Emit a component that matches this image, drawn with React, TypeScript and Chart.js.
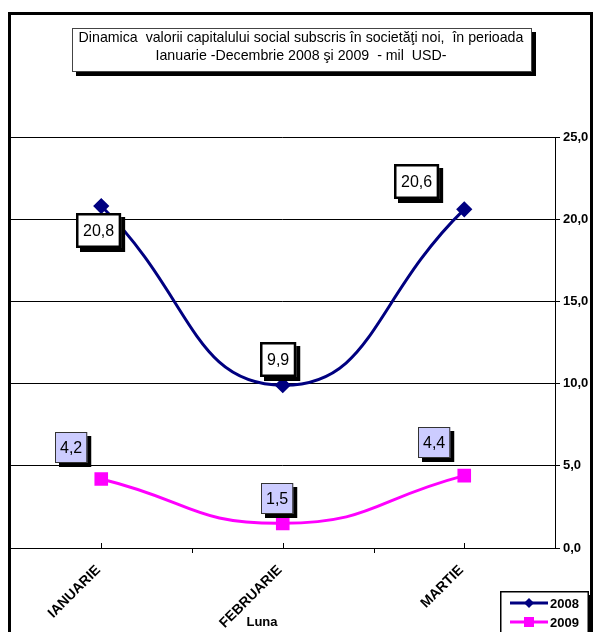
import React, { useEffect, useRef } from "react";
import { Chart, registerables } from "chart.js";

Chart.register(...registerables);

const months = ["IANUARIE", "FEBRUARIE", "MARTIE"];
const series2008 = [20.8, 9.9, 20.6];
const series2009 = [4.2, 1.5, 4.4];
const seriesNames = ["2008", "2009"];
const yTicks = [0, 5, 10, 15, 20, 25];
const titleLines = [
  "Dinamica  valorii capitalului social subscris în societăţi noi,  în perioada",
  "Ianuarie -Decembrie 2008 şi 2009  - mil  USD-",
];
const xAxisTitle = "Luna";

const fmt = (v: number) => v.toFixed(1).replace(".", ",");

export default function App() {
  const ref = useRef<HTMLCanvasElement>(null);

  useEffect(() => {
    const canvas = ref.current!;
    const FONT = "Arial, 'Liberation Sans', sans-serif";

    // label box offsets (style only)
    const labelOffsets = [
      [[-3, 24], [-5, -26], [-48, -28]],
      [[-30, -31], [-6, -25], [-30, -33]],
    ];
    const labelStyles = [
      { fill: "#ffffff", border: "#000000", borderW: 2.5, padX: 7, h: 35 },
      { fill: "#ccccff", border: "#333333", borderW: 1, padX: 5, h: 31 },
    ];

    const decor = {
      id: "decor",
      beforeDraw(chart: any) {
        const ctx = chart.ctx;
        ctx.save();
        ctx.fillStyle = "#fff";
        ctx.fillRect(0, 0, chart.width, chart.height);
        ctx.restore();
      },
      afterDraw(chart: any) {
        const ctx = chart.ctx;
        const xs = chart.scales.x;
        const area = chart.chartArea;
        ctx.save();
        // category ticks on x axis
        ctx.strokeStyle = "#000";
        ctx.lineWidth = 1;
        const n = months.length;
        const band = (area.right - area.left) / n;
        for (let i = 0; i < n; i++) {
          const cx = xs.getPixelForValue(i);
          ctx.beginPath();
          ctx.moveTo(Math.round(cx) + 0.5, area.bottom - 5);
          ctx.lineTo(Math.round(cx) + 0.5, area.bottom);
          ctx.stroke();
        }
        for (let i = 1; i < n; i++) {
          const bx = area.left + band * i;
          ctx.beginPath();
          ctx.moveTo(Math.round(bx) + 0.5, area.bottom);
          ctx.lineTo(Math.round(bx) + 0.5, area.bottom + 5);
          ctx.stroke();
        }

        // data label boxes
        ctx.font = "16px " + FONT;
        ctx.textAlign = "center";
        ctx.textBaseline = "middle";
        [series2008, series2009].forEach((vals, d) => {
          const meta = chart.getDatasetMeta(d);
          const st = labelStyles[d];
          vals.forEach((v, i) => {
            const el = meta.data[i];
            const text = fmt(v);
            const w = ctx.measureText(text).width + st.padX * 2;
            const h = st.h;
            const cx = el.x + labelOffsets[d][i][0];
            const cy = el.y + labelOffsets[d][i][1];
            const x0 = Math.round(cx - w / 2);
            const y0 = Math.round(cy - h / 2);
            ctx.fillStyle = "#000";
            ctx.fillRect(x0 + 4, y0 + 4, w, h);
            ctx.fillStyle = st.fill;
            ctx.fillRect(x0, y0, w, h);
            ctx.strokeStyle = st.border;
            ctx.lineWidth = st.borderW;
            ctx.strokeRect(x0 + st.borderW / 2, y0 + st.borderW / 2, w - st.borderW, h - st.borderW);
            ctx.fillStyle = "#000";
            ctx.fillText(text, x0 + w / 2, y0 + h / 2 + 1);
          });
        });

        // title box
        const tx0 = 72, ty0 = 28, tw = 460, th = 44;
        ctx.fillStyle = "#000";
        ctx.fillRect(tx0 + 4, ty0 + 4, tw, th);
        ctx.fillStyle = "#fff";
        ctx.fillRect(tx0, ty0, tw, th);
        ctx.strokeStyle = "#444";
        ctx.lineWidth = 1;
        ctx.strokeRect(tx0 + 0.5, ty0 + 0.5, tw - 1, th - 1);
        ctx.fillStyle = "#000";
        ctx.font = "14.2px " + FONT;
        ctx.textAlign = "center";
        ctx.textBaseline = "middle";
        ctx.fillText(titleLines[0], tx0 + tw / 2 - 1, ty0 + 10);
        ctx.fillText(titleLines[1], tx0 + tw / 2 - 1, ty0 + 28);

        // x axis title
        ctx.font = "bold 13px " + FONT;
        ctx.fillText(xAxisTitle, 262, 622);

        // legend
        const lx = 500, ly = 591, lw = 89, lh = 50;
        ctx.fillStyle = "#000";
        ctx.fillRect(lx + 4, ly + 4, lw, lh);
        ctx.fillStyle = "#fff";
        ctx.fillRect(lx, ly, lw, lh);
        ctx.strokeStyle = "#000";
        ctx.lineWidth = 1.5;
        ctx.strokeRect(lx + 0.75, ly + 0.75, lw - 1.5, lh - 1.5);
        const colors = ["#000080", "#ff00ff"];
        [0, 1].forEach((k) => {
          const yy = ly + 12 + k * 19;
          ctx.strokeStyle = colors[k];
          ctx.lineWidth = 3;
          ctx.beginPath();
          ctx.moveTo(lx + 10, yy);
          ctx.lineTo(lx + 48, yy);
          ctx.stroke();
          ctx.fillStyle = colors[k];
          ctx.beginPath();
          if (k === 0) {
            ctx.moveTo(lx + 29, yy - 5);
            ctx.lineTo(lx + 34, yy);
            ctx.lineTo(lx + 29, yy + 5);
            ctx.lineTo(lx + 24, yy);
            ctx.closePath();
          } else {
            ctx.rect(lx + 24, yy - 5, 10, 10);
          }
          ctx.fill();
          ctx.fillStyle = "#000";
          ctx.font = "bold 13px " + FONT;
          ctx.textAlign = "left";
          ctx.fillText(seriesNames[k], lx + 50, yy + 1);
        });

        // outer frame
        ctx.strokeStyle = "#000";
        ctx.lineWidth = 3;
        ctx.beginPath();
        ctx.moveTo(9.5, 640);
        ctx.lineTo(9.5, 13.5);
        ctx.lineTo(591.5, 13.5);
        ctx.lineTo(591.5, 640);
        ctx.stroke();
        ctx.restore();
      },
    };

    const chart = new Chart(canvas, {
      type: "line",
      data: {
        labels: months,
        datasets: [
          {
            label: seriesNames[0],
            data: series2008,
            borderColor: "#000080",
            backgroundColor: "#000080",
            borderWidth: 3,
            pointStyle: "rectRot",
            pointRadius: 6,
            tension: 0.5,
          },
          {
            label: seriesNames[1],
            data: series2009,
            borderColor: "#ff00ff",
            backgroundColor: "#ff00ff",
            borderWidth: 3,
            pointStyle: "rect",
            pointRadius: 7.5,
            tension: 0.5,
          },
        ],
      },
      options: {
        responsive: false,
        animation: false,
        devicePixelRatio: 1,
        layout: { padding: { left: 10, top: 137, right: 0, bottom: 0 } },
        plugins: {
          legend: { display: false },
          title: { display: false },
          tooltip: { enabled: false },
        },
        scales: {
          x: {
            type: "category",
            offset: true,
            grid: { display: false, drawTicks: false },
            border: { display: true, color: "#000", width: 1 },
            ticks: {
              color: "#000",
              font: { family: FONT, size: 14, weight: "bold" },
              maxRotation: 45,
              minRotation: 45,
              padding: 14,
              labelOffset: -3,
            },
            afterFit(scale: any) {
              scale.height = 84;
            },
          },
          y: {
            position: "right",
            min: 0,
            max: 25,
            afterBuildTicks(scale: any) {
              scale.ticks = yTicks.map((v) => ({ value: v }));
            },
            grid: { color: "#000", lineWidth: 1, tickLength: 5 },
            border: { display: true, color: "#000", width: 1 },
            ticks: {
              color: "#000",
              font: { family: FONT, size: 13, weight: "bold" },
              padding: 3,
              callback: (v: any) => fmt(Number(v)),
            },
            afterFit(scale: any) {
              scale.width = 39;
            },
          },
        },
      },
      plugins: [decor],
    } as any);
    return () => chart.destroy();
  }, []);

  return (
    <div style={{ position: "absolute", left: 0, top: 0, width: 594, height: 632 }}>
      <canvas ref={ref} width={594} height={632} style={{ display: "block", width: 594, height: 632 }} />
    </div>
  );
}
